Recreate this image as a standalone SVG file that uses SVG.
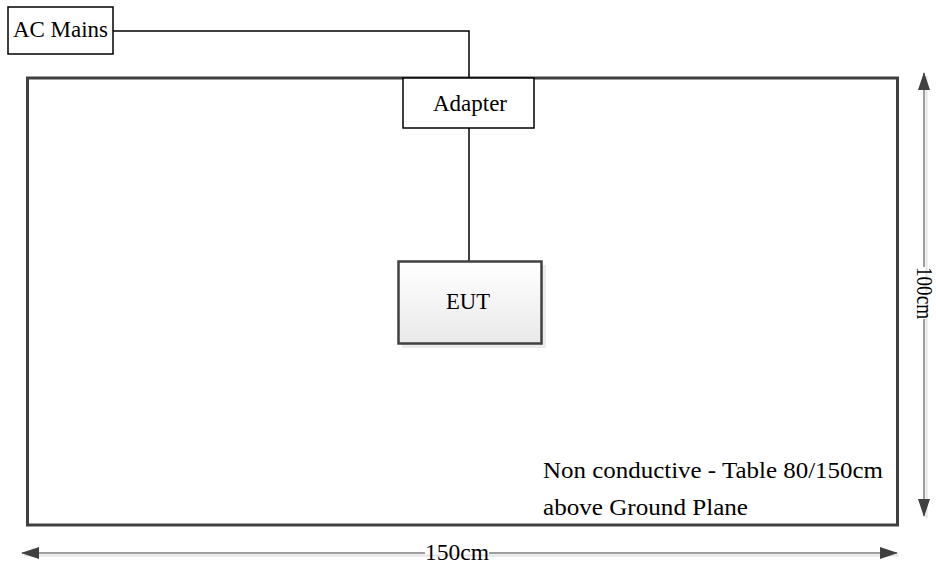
<svg xmlns="http://www.w3.org/2000/svg" width="936" height="567" viewBox="0 0 936 567">
  <defs>
    <linearGradient id="eutFill" x1="0" y1="0" x2="0" y2="1">
      <stop offset="0" stop-color="#ffffff"/>
      <stop offset="1" stop-color="#e9e9e9"/>
    </linearGradient>
    <marker id="arrowHead" viewBox="0 0 18 12" refX="17" refY="6" markerWidth="18" markerHeight="12" markerUnits="userSpaceOnUse" orient="auto-start-reverse">
      <path d="M0,0 L18,6 L0,12 Z" fill="#404040"/>
    </marker>
  </defs>
  <style>
    text { font-family: 'Liberation Serif', 'Times New Roman', Times, serif; font-size: 23px; fill: #000000; }
    .big { font-size: 24px; }
    .box { fill: #ffffff; stroke: #000000; stroke-width: 1.5; }
    .wire { fill: none; stroke: #000000; stroke-width: 1.5; }
    .dim { fill: none; stroke: #7f7f7f; stroke-width: 1.5; }
    .dimShadow { fill: none; stroke: #e4e4e4; stroke-width: 2; }
  </style>
  <rect width="936" height="567" fill="#ffffff"/>

  <g id="table">
    <rect x="27.5" y="78" width="870" height="447" fill="#ffffff" stroke="#404040" stroke-width="3"/>
    <text class="big" font-family="Liberation Serif, serif" x="543" y="478" textLength="340" lengthAdjust="spacingAndGlyphs">Non conductive - Table 80/150cm</text>
    <text class="big" font-family="Liberation Serif, serif" x="543" y="515" textLength="205" lengthAdjust="spacingAndGlyphs">above Ground Plane</text>
  </g>

  <g id="connectors">
    <polyline class="wire" points="113,31 469,31 469,78"/>
    <line class="wire" x1="469" y1="128" x2="469" y2="261"/>
  </g>

  <g id="ac-mains">
    <rect class="box" x="8" y="7" width="105" height="47"/>
    <text font-family="Liberation Serif, serif" x="60.5" y="37" text-anchor="middle" textLength="95" lengthAdjust="spacingAndGlyphs">AC Mains</text>
  </g>

  <g id="adapter">
    <rect class="box" x="403" y="78" width="131" height="50"/>
    <text font-family="Liberation Serif, serif" x="470" y="111" text-anchor="middle" textLength="74" lengthAdjust="spacingAndGlyphs">Adapter</text>
  </g>

  <g id="eut">
    <rect x="402" y="265" width="144" height="83" fill="#dedede" opacity="0.6"/>
    <rect x="398.5" y="261.5" width="143" height="82" fill="url(#eutFill)" stroke="#404040" stroke-width="2.5"/>
    <text font-family="Liberation Serif, serif" x="468" y="309" text-anchor="middle" textLength="44" lengthAdjust="spacingAndGlyphs">EUT</text>
  </g>

  <g id="dimension-height">
    <line class="dimShadow" x1="926.5" y1="76" x2="926.5" y2="518"/>
    <line class="dim" x1="924" y1="73" x2="924" y2="267" marker-start="url(#arrowHead)"/>
    <line class="dim" x1="924" y1="319" x2="924" y2="516" marker-end="url(#arrowHead)"/>
    <text font-family="Liberation Serif, serif" transform="translate(917,293) rotate(90)" text-anchor="middle" textLength="52" lengthAdjust="spacingAndGlyphs">100cm</text>
  </g>

  <g id="dimension-width">
    <line class="dimShadow" x1="24" y1="555.5" x2="899" y2="555.5"/>
    <line class="dim" x1="22" y1="553" x2="425" y2="553" marker-start="url(#arrowHead)"/>
    <line class="dim" x1="489" y1="553" x2="897" y2="553" marker-end="url(#arrowHead)"/>
    <text font-family="Liberation Serif, serif" x="457" y="560" text-anchor="middle" textLength="64" lengthAdjust="spacingAndGlyphs">150cm</text>
  </g>
</svg>
